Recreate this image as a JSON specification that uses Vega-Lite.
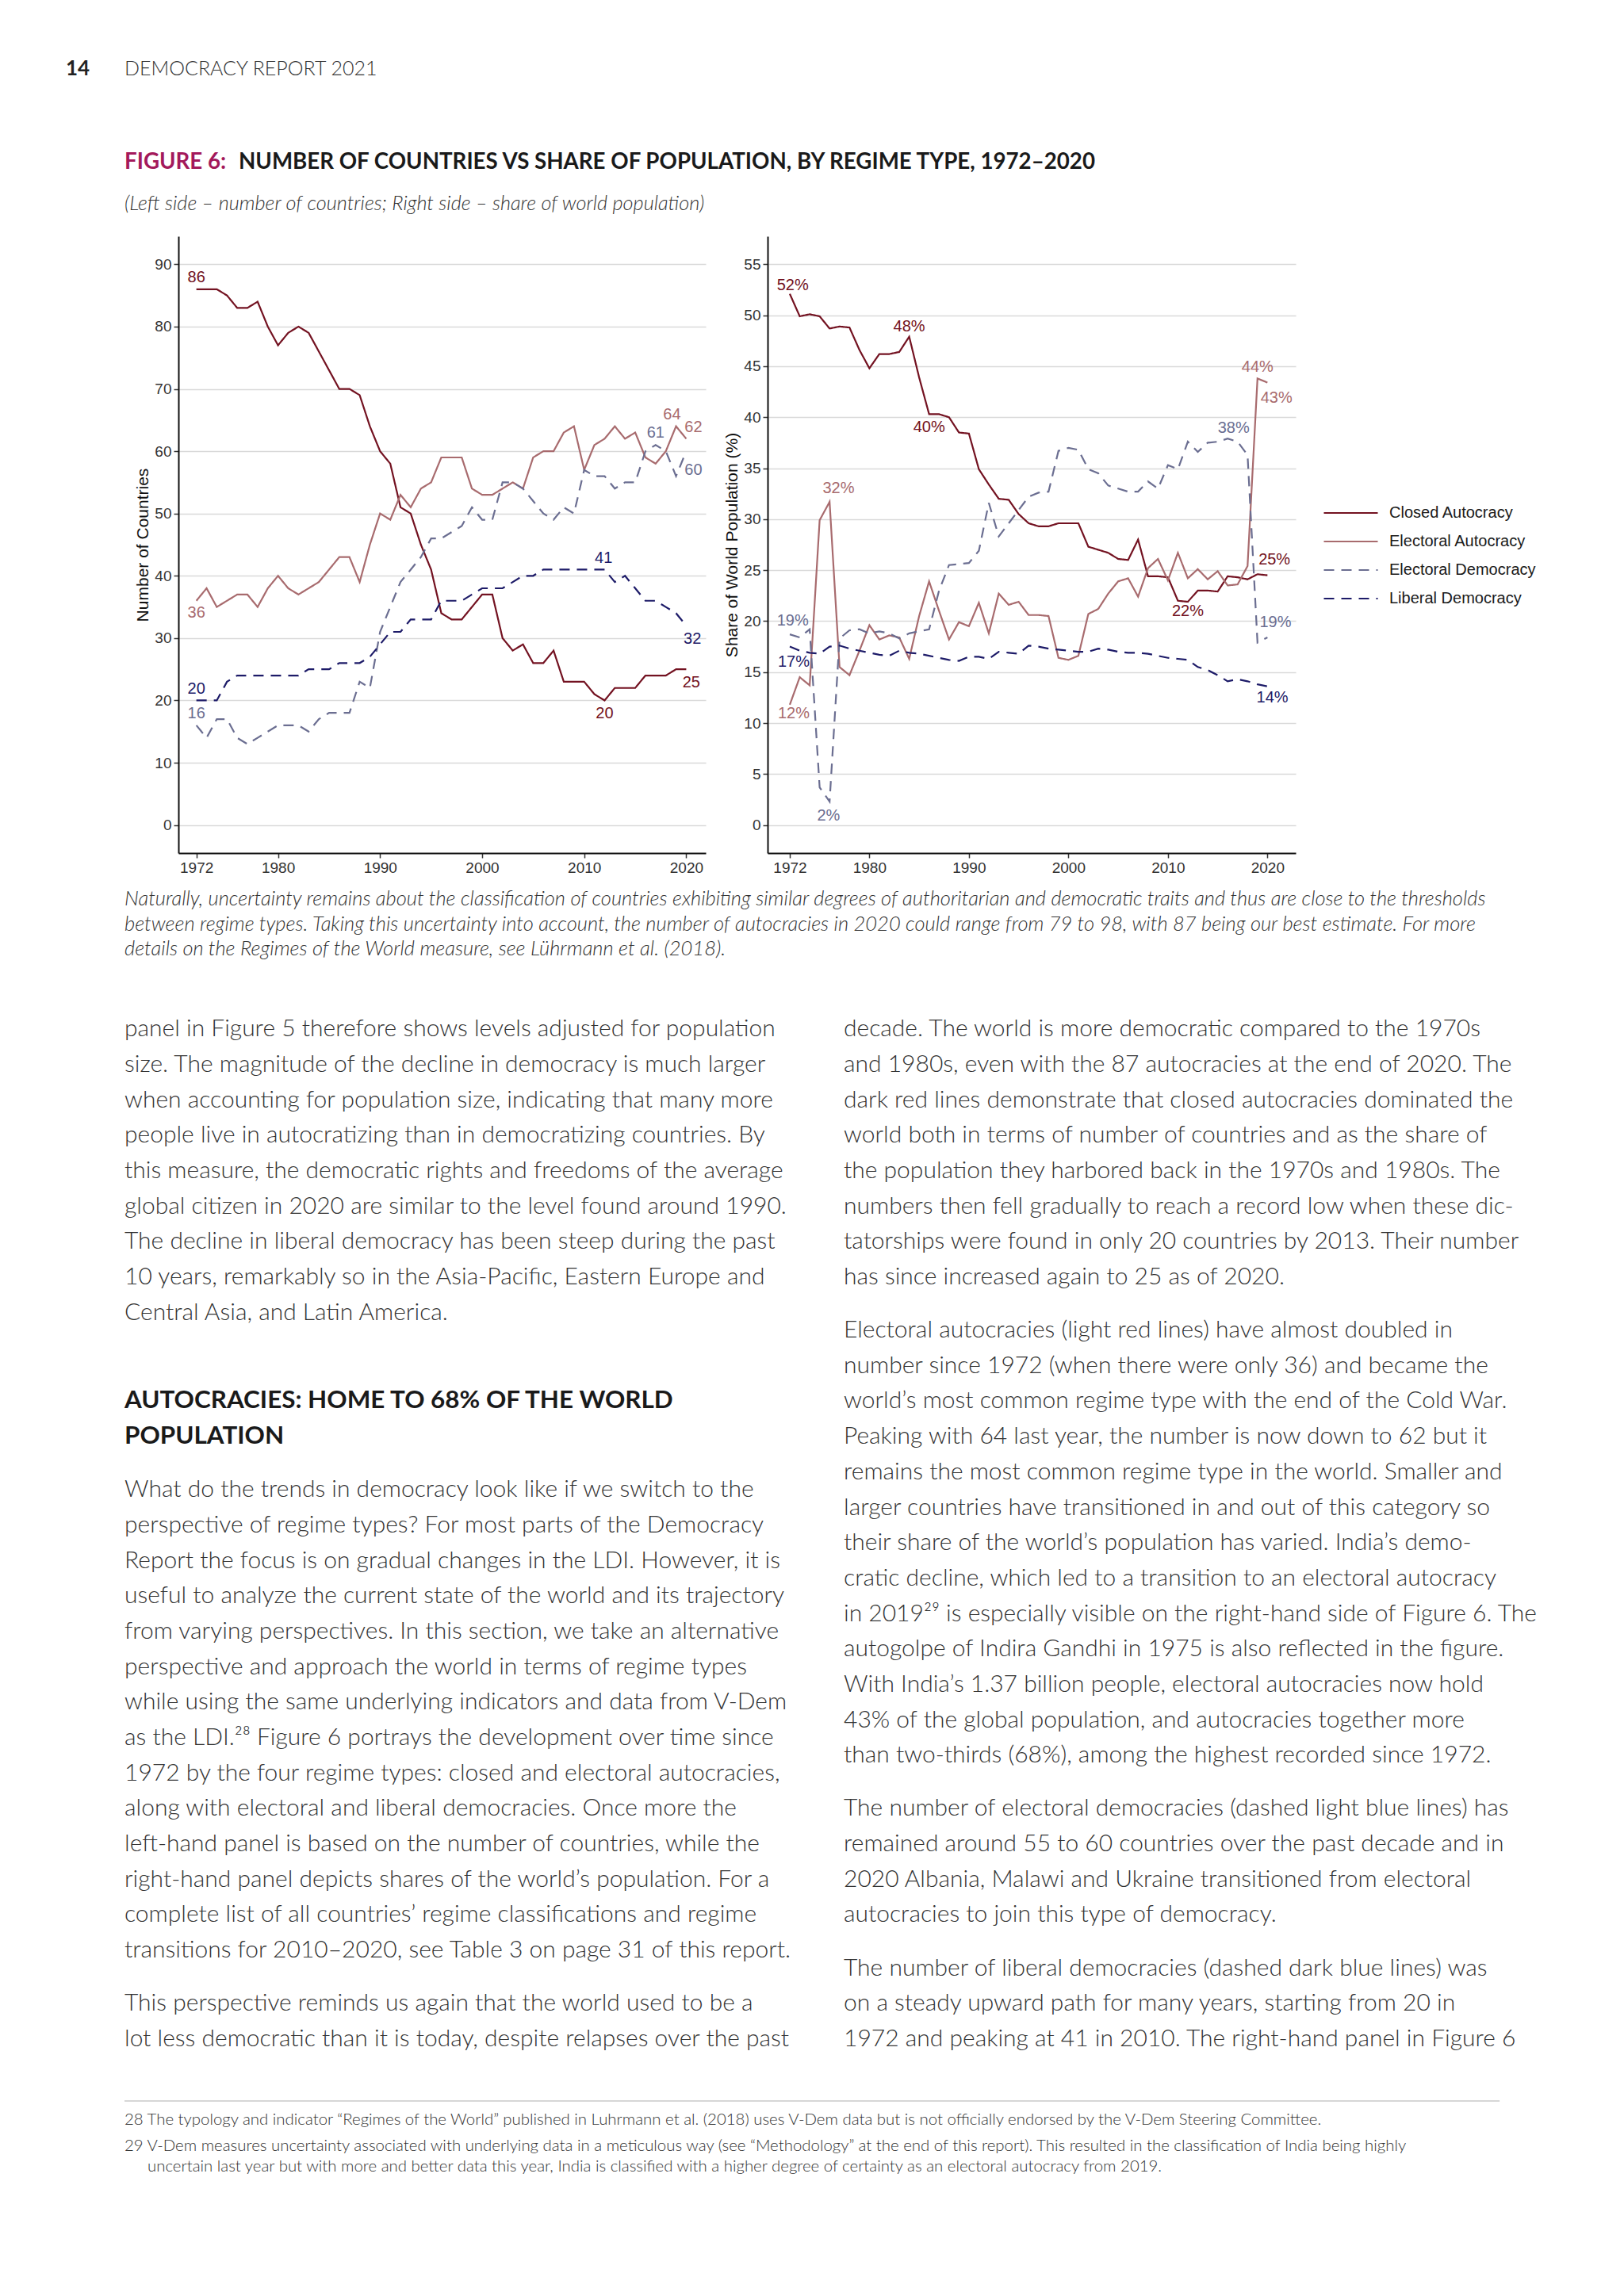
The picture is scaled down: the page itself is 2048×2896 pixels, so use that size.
{
"$schema": "https://vega.github.io/schema/vega-lite/v6.json",
"padding": 0,
"background": "#ffffff",
"spacing": 0,
"config": {
  "view": {"stroke": null},
  "axis": {"labelFont": "Liberation Sans", "titleFont": "Liberation Sans", "labelFontSize": 19, "titleFontSize": 21, "titleFontWeight": "normal", "labelColor": "#333333", "titleColor": "#111111", "tickColor": "#333333", "domainColor": "#111111", "domainWidth": 2, "tickWidth": 1.5, "tickSize": 6, "labelPadding": 3, "titlePadding": 4, "gridColor": "#d9d9d9", "gridWidth": 1.5}
},
"datasets": {
  "left": [
    {"year":1972,"Closed Autocracy":86,"Electoral Autocracy":36,"Electoral Democracy":16,"Liberal Democracy":20},
    {"year":1973,"Closed Autocracy":86,"Electoral Autocracy":38,"Electoral Democracy":14,"Liberal Democracy":20},
    {"year":1974,"Closed Autocracy":86,"Electoral Autocracy":35,"Electoral Democracy":17,"Liberal Democracy":20},
    {"year":1975,"Closed Autocracy":85,"Electoral Autocracy":36,"Electoral Democracy":17,"Liberal Democracy":23},
    {"year":1976,"Closed Autocracy":83,"Electoral Autocracy":37,"Electoral Democracy":14,"Liberal Democracy":24},
    {"year":1977,"Closed Autocracy":83,"Electoral Autocracy":37,"Electoral Democracy":13,"Liberal Democracy":24},
    {"year":1978,"Closed Autocracy":84,"Electoral Autocracy":35,"Electoral Democracy":14,"Liberal Democracy":24},
    {"year":1979,"Closed Autocracy":80,"Electoral Autocracy":38,"Electoral Democracy":15,"Liberal Democracy":24},
    {"year":1980,"Closed Autocracy":77,"Electoral Autocracy":40,"Electoral Democracy":16,"Liberal Democracy":24},
    {"year":1981,"Closed Autocracy":79,"Electoral Autocracy":38,"Electoral Democracy":16,"Liberal Democracy":24},
    {"year":1982,"Closed Autocracy":80,"Electoral Autocracy":37,"Electoral Democracy":16,"Liberal Democracy":24},
    {"year":1983,"Closed Autocracy":79,"Electoral Autocracy":38,"Electoral Democracy":15,"Liberal Democracy":25},
    {"year":1984,"Closed Autocracy":76,"Electoral Autocracy":39,"Electoral Democracy":17,"Liberal Democracy":25},
    {"year":1985,"Closed Autocracy":73,"Electoral Autocracy":41,"Electoral Democracy":18,"Liberal Democracy":25},
    {"year":1986,"Closed Autocracy":70,"Electoral Autocracy":43,"Electoral Democracy":18,"Liberal Democracy":26},
    {"year":1987,"Closed Autocracy":70,"Electoral Autocracy":43,"Electoral Democracy":18,"Liberal Democracy":26},
    {"year":1988,"Closed Autocracy":69,"Electoral Autocracy":39,"Electoral Democracy":23,"Liberal Democracy":26},
    {"year":1989,"Closed Autocracy":64,"Electoral Autocracy":45,"Electoral Democracy":22,"Liberal Democracy":27},
    {"year":1990,"Closed Autocracy":60,"Electoral Autocracy":50,"Electoral Democracy":31,"Liberal Democracy":29},
    {"year":1991,"Closed Autocracy":58,"Electoral Autocracy":49,"Electoral Democracy":35,"Liberal Democracy":31},
    {"year":1992,"Closed Autocracy":51,"Electoral Autocracy":53,"Electoral Democracy":39,"Liberal Democracy":31},
    {"year":1993,"Closed Autocracy":50,"Electoral Autocracy":51,"Electoral Democracy":41,"Liberal Democracy":33},
    {"year":1994,"Closed Autocracy":45,"Electoral Autocracy":54,"Electoral Democracy":43,"Liberal Democracy":33},
    {"year":1995,"Closed Autocracy":41,"Electoral Autocracy":55,"Electoral Democracy":46,"Liberal Democracy":33},
    {"year":1996,"Closed Autocracy":34,"Electoral Autocracy":59,"Electoral Democracy":46,"Liberal Democracy":36},
    {"year":1997,"Closed Autocracy":33,"Electoral Autocracy":59,"Electoral Democracy":47,"Liberal Democracy":36},
    {"year":1998,"Closed Autocracy":33,"Electoral Autocracy":59,"Electoral Democracy":48,"Liberal Democracy":36},
    {"year":1999,"Closed Autocracy":35,"Electoral Autocracy":54,"Electoral Democracy":51,"Liberal Democracy":37},
    {"year":2000,"Closed Autocracy":37,"Electoral Autocracy":53,"Electoral Democracy":49,"Liberal Democracy":38},
    {"year":2001,"Closed Autocracy":37,"Electoral Autocracy":53,"Electoral Democracy":49,"Liberal Democracy":38},
    {"year":2002,"Closed Autocracy":30,"Electoral Autocracy":54,"Electoral Democracy":55,"Liberal Democracy":38},
    {"year":2003,"Closed Autocracy":28,"Electoral Autocracy":55,"Electoral Democracy":55,"Liberal Democracy":39},
    {"year":2004,"Closed Autocracy":29,"Electoral Autocracy":54,"Electoral Democracy":54,"Liberal Democracy":40},
    {"year":2005,"Closed Autocracy":26,"Electoral Autocracy":59,"Electoral Democracy":52,"Liberal Democracy":40},
    {"year":2006,"Closed Autocracy":26,"Electoral Autocracy":60,"Electoral Democracy":50,"Liberal Democracy":41},
    {"year":2007,"Closed Autocracy":28,"Electoral Autocracy":60,"Electoral Democracy":49,"Liberal Democracy":41},
    {"year":2008,"Closed Autocracy":23,"Electoral Autocracy":63,"Electoral Democracy":51,"Liberal Democracy":41},
    {"year":2009,"Closed Autocracy":23,"Electoral Autocracy":64,"Electoral Democracy":50,"Liberal Democracy":41},
    {"year":2010,"Closed Autocracy":23,"Electoral Autocracy":57,"Electoral Democracy":57,"Liberal Democracy":41},
    {"year":2011,"Closed Autocracy":21,"Electoral Autocracy":61,"Electoral Democracy":56,"Liberal Democracy":41},
    {"year":2012,"Closed Autocracy":20,"Electoral Autocracy":62,"Electoral Democracy":56,"Liberal Democracy":41},
    {"year":2013,"Closed Autocracy":22,"Electoral Autocracy":64,"Electoral Democracy":54,"Liberal Democracy":39},
    {"year":2014,"Closed Autocracy":22,"Electoral Autocracy":62,"Electoral Democracy":55,"Liberal Democracy":40},
    {"year":2015,"Closed Autocracy":22,"Electoral Autocracy":63,"Electoral Democracy":55,"Liberal Democracy":38},
    {"year":2016,"Closed Autocracy":24,"Electoral Autocracy":59,"Electoral Democracy":60,"Liberal Democracy":36},
    {"year":2017,"Closed Autocracy":24,"Electoral Autocracy":58,"Electoral Democracy":61,"Liberal Democracy":36},
    {"year":2018,"Closed Autocracy":24,"Electoral Autocracy":60,"Electoral Democracy":60,"Liberal Democracy":35},
    {"year":2019,"Closed Autocracy":25,"Electoral Autocracy":64,"Electoral Democracy":56,"Liberal Democracy":34},
    {"year":2020,"Closed Autocracy":25,"Electoral Autocracy":62,"Electoral Democracy":60,"Liberal Democracy":32}
  ],
  "right": [
    {"year":1972,"Closed Autocracy":52.1,"Electoral Autocracy":11.8,"Electoral Democracy":18.7,"Liberal Democracy":17.5},
    {"year":1973,"Closed Autocracy":49.9,"Electoral Autocracy":14.5,"Electoral Democracy":18.4,"Liberal Democracy":17.1},
    {"year":1974,"Closed Autocracy":50.1,"Electoral Autocracy":13.7,"Electoral Democracy":19.2,"Liberal Democracy":16.9},
    {"year":1975,"Closed Autocracy":49.9,"Electoral Autocracy":29.9,"Electoral Democracy":3.7,"Liberal Democracy":16.8},
    {"year":1976,"Closed Autocracy":48.7,"Electoral Autocracy":31.7,"Electoral Democracy":2.3,"Liberal Democracy":17.5},
    {"year":1977,"Closed Autocracy":48.9,"Electoral Autocracy":15.5,"Electoral Democracy":18.3,"Liberal Democracy":17.6},
    {"year":1978,"Closed Autocracy":48.8,"Electoral Autocracy":14.7,"Electoral Democracy":19.1,"Liberal Democracy":17.3},
    {"year":1979,"Closed Autocracy":46.6,"Electoral Autocracy":17.1,"Electoral Democracy":19.2,"Liberal Democracy":17.1},
    {"year":1980,"Closed Autocracy":44.8,"Electoral Autocracy":19.6,"Electoral Democracy":18.8,"Liberal Democracy":16.9},
    {"year":1981,"Closed Autocracy":46.2,"Electoral Autocracy":18.2,"Electoral Democracy":19.0,"Liberal Democracy":16.7},
    {"year":1982,"Closed Autocracy":46.2,"Electoral Autocracy":18.6,"Electoral Democracy":18.8,"Liberal Democracy":16.6},
    {"year":1983,"Closed Autocracy":46.4,"Electoral Autocracy":18.4,"Electoral Democracy":18.3,"Liberal Democracy":17.1},
    {"year":1984,"Closed Autocracy":47.9,"Electoral Autocracy":16.3,"Electoral Democracy":18.8,"Liberal Democracy":16.9},
    {"year":1985,"Closed Autocracy":43.9,"Electoral Autocracy":20.5,"Electoral Democracy":19.0,"Liberal Democracy":16.8},
    {"year":1986,"Closed Autocracy":40.3,"Electoral Autocracy":23.9,"Electoral Democracy":19.2,"Liberal Democracy":16.6},
    {"year":1987,"Closed Autocracy":40.3,"Electoral Autocracy":21.0,"Electoral Democracy":23.0,"Liberal Democracy":16.4},
    {"year":1988,"Closed Autocracy":40.0,"Electoral Autocracy":18.2,"Electoral Democracy":25.5,"Liberal Democracy":16.2},
    {"year":1989,"Closed Autocracy":38.5,"Electoral Autocracy":19.9,"Electoral Democracy":25.6,"Liberal Democracy":16.1},
    {"year":1990,"Closed Autocracy":38.4,"Electoral Autocracy":19.5,"Electoral Democracy":25.7,"Liberal Democracy":16.5},
    {"year":1991,"Closed Autocracy":34.9,"Electoral Autocracy":21.8,"Electoral Democracy":26.9,"Liberal Democracy":16.5},
    {"year":1992,"Closed Autocracy":33.4,"Electoral Autocracy":18.8,"Electoral Democracy":31.6,"Liberal Democracy":16.3},
    {"year":1993,"Closed Autocracy":32.0,"Electoral Autocracy":22.7,"Electoral Democracy":28.3,"Liberal Democracy":17.0},
    {"year":1994,"Closed Autocracy":31.9,"Electoral Autocracy":21.6,"Electoral Democracy":29.6,"Liberal Democracy":16.9},
    {"year":1995,"Closed Autocracy":30.5,"Electoral Autocracy":21.9,"Electoral Democracy":30.9,"Liberal Democracy":16.8},
    {"year":1996,"Closed Autocracy":29.6,"Electoral Autocracy":20.6,"Electoral Democracy":32.2,"Liberal Democracy":17.6},
    {"year":1997,"Closed Autocracy":29.3,"Electoral Autocracy":20.6,"Electoral Democracy":32.6,"Liberal Democracy":17.5},
    {"year":1998,"Closed Autocracy":29.3,"Electoral Autocracy":20.5,"Electoral Democracy":32.7,"Liberal Democracy":17.3},
    {"year":1999,"Closed Autocracy":29.6,"Electoral Autocracy":16.4,"Electoral Democracy":36.7,"Liberal Democracy":17.2},
    {"year":2000,"Closed Autocracy":29.6,"Electoral Autocracy":16.2,"Electoral Democracy":37.0,"Liberal Democracy":17.1},
    {"year":2001,"Closed Autocracy":29.6,"Electoral Autocracy":16.6,"Electoral Democracy":36.8,"Liberal Democracy":17.0},
    {"year":2002,"Closed Autocracy":27.3,"Electoral Autocracy":20.7,"Electoral Democracy":34.9,"Liberal Democracy":17.0},
    {"year":2003,"Closed Autocracy":27.0,"Electoral Autocracy":21.2,"Electoral Democracy":34.5,"Liberal Democracy":17.3},
    {"year":2004,"Closed Autocracy":26.7,"Electoral Autocracy":22.7,"Electoral Democracy":33.3,"Liberal Democracy":17.2},
    {"year":2005,"Closed Autocracy":26.1,"Electoral Autocracy":23.9,"Electoral Democracy":33.0,"Liberal Democracy":17.0},
    {"year":2006,"Closed Autocracy":26.0,"Electoral Autocracy":24.2,"Electoral Democracy":32.7,"Liberal Democracy":16.9},
    {"year":2007,"Closed Autocracy":28.0,"Electoral Autocracy":22.4,"Electoral Democracy":32.7,"Liberal Democracy":16.9},
    {"year":2008,"Closed Autocracy":24.4,"Electoral Autocracy":25.2,"Electoral Democracy":33.7,"Liberal Democracy":16.8},
    {"year":2009,"Closed Autocracy":24.4,"Electoral Autocracy":26.1,"Electoral Democracy":33.0,"Liberal Democracy":16.6},
    {"year":2010,"Closed Autocracy":24.3,"Electoral Autocracy":24.0,"Electoral Democracy":35.3,"Liberal Democracy":16.4},
    {"year":2011,"Closed Autocracy":22.0,"Electoral Autocracy":26.7,"Electoral Democracy":34.9,"Liberal Democracy":16.3},
    {"year":2012,"Closed Autocracy":21.9,"Electoral Autocracy":24.2,"Electoral Democracy":37.6,"Liberal Democracy":16.2},
    {"year":2013,"Closed Autocracy":23.0,"Electoral Autocracy":25.1,"Electoral Democracy":36.6,"Liberal Democracy":15.5},
    {"year":2014,"Closed Autocracy":23.0,"Electoral Autocracy":24.1,"Electoral Democracy":37.5,"Liberal Democracy":15.2},
    {"year":2015,"Closed Autocracy":22.9,"Electoral Autocracy":24.9,"Electoral Democracy":37.6,"Liberal Democracy":14.7},
    {"year":2016,"Closed Autocracy":24.4,"Electoral Autocracy":23.5,"Electoral Democracy":37.9,"Liberal Democracy":14.1},
    {"year":2017,"Closed Autocracy":24.3,"Electoral Autocracy":23.6,"Electoral Democracy":37.6,"Liberal Democracy":14.3},
    {"year":2018,"Closed Autocracy":24.1,"Electoral Autocracy":25.4,"Electoral Democracy":36.3,"Liberal Democracy":14.1},
    {"year":2019,"Closed Autocracy":24.6,"Electoral Autocracy":43.8,"Electoral Democracy":17.9,"Liberal Democracy":13.8},
    {"year":2020,"Closed Autocracy":24.5,"Electoral Autocracy":43.4,"Electoral Democracy":18.4,"Liberal Democracy":13.6}
  ],
  "labels": [
    {"panel":"left","series":"Closed Autocracy","year":1972,"value":87.9,"label":"86"},
    {"panel":"left","series":"Electoral Autocracy","year":1972,"value":34.1,"label":"36"},
    {"panel":"left","series":"Liberal Democracy","year":1972,"value":21.9,"label":"20"},
    {"panel":"left","series":"Electoral Democracy","year":1972,"value":17.9,"label":"16"},
    {"panel":"left","series":"Liberal Democracy","year":2011.9,"value":42.9,"label":"41"},
    {"panel":"left","series":"Closed Autocracy","year":2012,"value":17.9,"label":"20"},
    {"panel":"left","series":"Closed Autocracy","year":2020.5,"value":22.9,"label":"25"},
    {"panel":"left","series":"Liberal Democracy","year":2020.6,"value":29.9,"label":"32"},
    {"panel":"left","series":"Electoral Autocracy","year":2018.6,"value":65.9,"label":"64"},
    {"panel":"left","series":"Electoral Autocracy","year":2020.7,"value":63.8,"label":"62"},
    {"panel":"left","series":"Electoral Democracy","year":2017,"value":62.9,"label":"61"},
    {"panel":"left","series":"Electoral Democracy","year":2020.7,"value":56.9,"label":"60"},
    {"panel":"right","series":"Closed Autocracy","year":1972.3,"value":52.9,"label":"52%"},
    {"panel":"right","series":"Closed Autocracy","year":1984,"value":48.9,"label":"48%"},
    {"panel":"right","series":"Closed Autocracy","year":1986,"value":39.0,"label":"40%"},
    {"panel":"right","series":"Electoral Autocracy","year":1976.9,"value":33.0,"label":"32%"},
    {"panel":"right","series":"Electoral Democracy","year":1972.3,"value":20.0,"label":"19%"},
    {"panel":"right","series":"Liberal Democracy","year":1972.4,"value":16.0,"label":"17%"},
    {"panel":"right","series":"Electoral Autocracy","year":1972.4,"value":10.9,"label":"12%"},
    {"panel":"right","series":"Electoral Democracy","year":1975.9,"value":0.9,"label":"2%"},
    {"panel":"right","series":"Electoral Autocracy","year":2019.0,"value":44.9,"label":"44%"},
    {"panel":"right","series":"Electoral Autocracy","year":2020.9,"value":41.9,"label":"43%"},
    {"panel":"right","series":"Electoral Democracy","year":2016.6,"value":38.9,"label":"38%"},
    {"panel":"right","series":"Closed Autocracy","year":2020.7,"value":26.0,"label":"25%"},
    {"panel":"right","series":"Closed Autocracy","year":2012.0,"value":21.0,"label":"22%"},
    {"panel":"right","series":"Electoral Democracy","year":2020.8,"value":19.9,"label":"19%"},
    {"panel":"right","series":"Liberal Democracy","year":2020.5,"value":12.5,"label":"14%"}
  ],
  "head": [
    {"kind":"page","col":0,"line":0,"text":"14"},
    {"kind":"running","col":0,"line":0,"text":"DEMOCRACY REPORT 2021"},
    {"kind":"figlabel","col":0,"line":1,"text":"FIGURE 6:"},
    {"kind":"figtitle","col":0,"line":1,"text":"NUMBER OF COUNTRIES VS SHARE OF POPULATION, BY REGIME TYPE, 1972–2020"},
    {"kind":"subtitle","col":0,"line":1.4407,"text":"(Left side – number of countries; Right side – share of world population)"}
  ],
  "page": [
    {"kind":"caption","col":0,"line":-3.674,"text":"Naturally, uncertainty remains about the classification of countries exhibiting similar degrees of authoritarian and democratic traits and thus are close to the thresholds"},
    {"kind":"caption","col":0,"line":-2.969,"text":"between regime types. Taking this uncertainty into account, the number of autocracies in 2020 could range from 79 to 98, with 87 being our best estimate. For more"},
    {"kind":"caption","col":0,"line":-2.264,"text":"details on the Regimes of the World measure, see Lührmann et al. (2018)."},
    {"kind":"body","col":0,"line":0,"text":"panel in Figure 5 therefore shows levels adjusted for population"},
    {"kind":"body","col":0,"line":1,"text":"size. The magnitude of the decline in democracy is much larger"},
    {"kind":"body","col":0,"line":2,"text":"when accounting for population size, indicating that many more"},
    {"kind":"body","col":0,"line":3,"text":"people live in autocratizing than in democratizing countries. By"},
    {"kind":"body","col":0,"line":4,"text":"this measure, the democratic rights and freedoms of the average"},
    {"kind":"body","col":0,"line":5,"text":"global citizen in 2020 are similar to the level found around 1990."},
    {"kind":"body","col":0,"line":6,"text":"The decline in liberal democracy has been steep during the past"},
    {"kind":"body","col":0,"line":7,"text":"10 years, remarkably so in the Asia-Pacific, Eastern Europe and"},
    {"kind":"body","col":0,"line":8,"text":"Central Asia, and Latin America."},
    {"kind":"heading","col":0,"line":10.5,"text":"AUTOCRACIES: HOME TO 68% OF THE WORLD"},
    {"kind":"heading","col":0,"line":11.5,"text":"POPULATION"},
    {"kind":"body","col":0,"line":13,"text":"What do the trends in democracy look like if we switch to the"},
    {"kind":"body","col":0,"line":14,"text":"perspective of regime types? For most parts of the Democracy"},
    {"kind":"body","col":0,"line":15,"text":"Report the focus is on gradual changes in the LDI. However, it is"},
    {"kind":"body","col":0,"line":16,"text":"useful to analyze the current state of the world and its trajectory"},
    {"kind":"body","col":0,"line":17,"text":"from varying perspectives. In this section, we take an alternative"},
    {"kind":"body","col":0,"line":18,"text":"perspective and approach the world in terms of regime types"},
    {"kind":"body","col":0,"line":19,"text":"while using the same underlying indicators and data from V-Dem"},
    {"kind":"body","col":0,"line":20,"text":"as the LDI.²⁸ Figure 6 portrays the development over time since"},
    {"kind":"body","col":0,"line":21,"text":"1972 by the four regime types: closed and electoral autocracies,"},
    {"kind":"body","col":0,"line":22,"text":"along with electoral and liberal democracies. Once more the"},
    {"kind":"body","col":0,"line":23,"text":"left-hand panel is based on the number of countries, while the"},
    {"kind":"body","col":0,"line":24,"text":"right-hand panel depicts shares of the world’s population. For a"},
    {"kind":"body","col":0,"line":25,"text":"complete list of all countries’ regime classifications and regime"},
    {"kind":"body","col":0,"line":26,"text":"transitions for 2010–2020, see Table 3 on page 31 of this report."},
    {"kind":"body","col":0,"line":27.5,"text":"This perspective reminds us again that the world used to be a"},
    {"kind":"body","col":0,"line":28.5,"text":"lot less democratic than it is today, despite relapses over the past"},
    {"kind":"body","col":1,"line":0,"text":"decade. The world is more democratic compared to the 1970s"},
    {"kind":"body","col":1,"line":1,"text":"and 1980s, even with the 87 autocracies at the end of 2020. The"},
    {"kind":"body","col":1,"line":2,"text":"dark red lines demonstrate that closed autocracies dominated the"},
    {"kind":"body","col":1,"line":3,"text":"world both in terms of number of countries and as the share of"},
    {"kind":"body","col":1,"line":4,"text":"the population they harbored back in the 1970s and 1980s. The"},
    {"kind":"body","col":1,"line":5,"text":"numbers then fell gradually to reach a record low when these dic-"},
    {"kind":"body","col":1,"line":6,"text":"tatorships were found in only 20 countries by 2013. Their number"},
    {"kind":"body","col":1,"line":7,"text":"has since increased again to 25 as of 2020."},
    {"kind":"body","col":1,"line":8.5,"text":"Electoral autocracies (light red lines) have almost doubled in"},
    {"kind":"body","col":1,"line":9.5,"text":"number since 1972 (when there were only 36) and became the"},
    {"kind":"body","col":1,"line":10.5,"text":"world’s most common regime type with the end of the Cold War."},
    {"kind":"body","col":1,"line":11.5,"text":"Peaking with 64 last year, the number is now down to 62 but it"},
    {"kind":"body","col":1,"line":12.5,"text":"remains the most common regime type in the world. Smaller and"},
    {"kind":"body","col":1,"line":13.5,"text":"larger countries have transitioned in and out of this category so"},
    {"kind":"body","col":1,"line":14.5,"text":"their share of the world’s population has varied. India’s demo-"},
    {"kind":"body","col":1,"line":15.5,"text":"cratic decline, which led to a transition to an electoral autocracy"},
    {"kind":"body","col":1,"line":16.5,"text":"in 2019²⁹ is especially visible on the right-hand side of Figure 6. The"},
    {"kind":"body","col":1,"line":17.5,"text":"autogolpe of Indira Gandhi in 1975 is also reflected in the figure."},
    {"kind":"body","col":1,"line":18.5,"text":"With India’s 1.37 billion people, electoral autocracies now hold"},
    {"kind":"body","col":1,"line":19.5,"text":"43% of the global population, and autocracies together more"},
    {"kind":"body","col":1,"line":20.5,"text":"than two-thirds (68%), among the highest recorded since 1972."},
    {"kind":"body","col":1,"line":22,"text":"The number of electoral democracies (dashed light blue lines) has"},
    {"kind":"body","col":1,"line":23,"text":"remained around 55 to 60 countries over the past decade and in"},
    {"kind":"body","col":1,"line":24,"text":"2020 Albania, Malawi and Ukraine transitioned from electoral"},
    {"kind":"body","col":1,"line":25,"text":"autocracies to join this type of democracy."},
    {"kind":"body","col":1,"line":26.5,"text":"The number of liberal democracies (dashed dark blue lines) was"},
    {"kind":"body","col":1,"line":27.5,"text":"on a steady upward path for many years, starting from 20 in"},
    {"kind":"body","col":1,"line":28.5,"text":"1972 and peaking at 41 in 2010. The right-hand panel in Figure 6"},
    {"kind":"rule","col":0,"col2":1.912,"line":30.25,"text":""},
    {"kind":"foot","col":0,"line":30.787,"text":"28 The typology and indicator “Regimes of the World” published in Luhrmann et al. (2018) uses V-Dem data but is not officially endorsed by the V-Dem Steering Committee."},
    {"kind":"foot","col":0,"line":31.525,"text":"29 V-Dem measures uncertainty associated with underlying data in a meticulous way (see “Methodology” at the end of this report). This resulted in the classification of India being highly"},
    {"kind":"footcont","col":0,"line":32.107,"text":"uncertain last year but with more and better data this year, India is classified with a higher degree of certainty as an electoral autocracy from 2019."}
  ]
},
"vconcat": [
  {
    "width": 2048, "height": 298,
    "data": {"name": "head"},
    "encoding": {
      "x": {"field": "col", "type": "quantitative", "scale": {"domain": [0, 1], "range": [157, 1064], "nice": false, "zero": false}, "axis": null},
      "y": {"field": "line", "type": "quantitative", "scale": {"domain": [0, 1], "range": [87, 205], "nice": false, "zero": false}, "axis": null},
      "text": {"field": "text"}
    },
    "layer": [
      {"transform": [{"filter": "datum.kind === 'page'"}], "mark": {"type": "text", "align": "left", "baseline": "middle", "dx": -74, "font": "Lato", "fontWeight": "bold", "fontSize": 26, "color": "#222222"}},
      {"transform": [{"filter": "datum.kind === 'running'"}], "mark": {"type": "text", "align": "left", "baseline": "middle", "font": "Lato", "fontWeight": 300, "fontSize": 25, "color": "#333333"}},
      {"transform": [{"filter": "datum.kind === 'figlabel'"}], "mark": {"type": "text", "align": "left", "baseline": "middle", "font": "Lato", "fontWeight": "bold", "fontSize": 27.7, "color": "#a3195b"}},
      {"transform": [{"filter": "datum.kind === 'figtitle'"}], "mark": {"type": "text", "align": "left", "baseline": "middle", "dx": 144, "font": "Lato", "fontWeight": "bold", "fontSize": 27.7, "color": "#1a1a1a"}},
      {"transform": [{"filter": "datum.kind === 'subtitle'"}], "mark": {"type": "text", "align": "left", "baseline": "middle", "font": "Lato", "fontStyle": "italic", "fontWeight": 300, "fontSize": 25.3, "color": "#333333"}}
    ]
  },
  {
    "bounds": "flush",
    "spacing": 0,
    "resolve": {"scale": {"color": "independent", "strokeDash": "independent", "fill": "independent"}, "legend": {"color": "independent", "strokeDash": "independent", "fill": "independent"}},
    "hconcat": [
      {"width": 225, "height": 778, "data": {"values": [{}]}, "mark": {"type": "text"}, "encoding": {"text": {"value": ""}}},
      {
        "width": 665, "height": 778,
        "layer": [
          {
            "data": {"name": "left"},
            "transform": [{"fold": ["Closed Autocracy", "Electoral Autocracy", "Electoral Democracy", "Liberal Democracy"], "as": ["series", "value"]}],
            "mark": {"type": "line", "strokeWidth": 2.2},
            "encoding": {
              "x": {"field": "year", "type": "quantitative", "scale": {"domain": [1970.24, 2021.91], "nice": false, "zero": false}, "axis": {"values": [1972, 1980, 1990, 2000, 2010, 2020], "format": "d", "title": null, "grid": false}},
              "y": {"field": "value", "type": "quantitative", "scale": {"domain": [-4.5, 94.5], "nice": false, "zero": false}, "axis": {"values": [0, 10, 20, 30, 40, 50, 60, 70, 80, 90], "title": "Number of Countries", "grid": true}},
              "color": {"field": "series", "type": "nominal", "scale": {"domain": ["Closed Autocracy", "Electoral Autocracy", "Electoral Democracy", "Liberal Democracy"], "range": ["#731221", "#a86b6e", "#6b6e91", "#1d1b68"]}, "legend": null},
              "strokeDash": {"field": "series", "type": "nominal", "scale": {"domain": ["Closed Autocracy", "Electoral Autocracy", "Electoral Democracy", "Liberal Democracy"], "range": [[1, 0], [1, 0], [13, 9], [13, 9]]}, "legend": null}
            }
          },
          {
            "data": {"name": "labels"},
            "transform": [{"filter": "datum.panel === 'left'"}],
            "mark": {"type": "text", "font": "Liberation Sans", "fontSize": 20, "align": "center", "baseline": "middle"},
            "encoding": {
              "x": {"field": "year", "type": "quantitative"},
              "y": {"field": "value", "type": "quantitative"},
              "text": {"field": "label"},
              "fill": {"field": "series", "type": "nominal", "scale": {"domain": ["Closed Autocracy", "Electoral Autocracy", "Electoral Democracy", "Liberal Democracy"], "range": ["#731221", "#a86b6e", "#6b6e91", "#1d1b68"]}, "legend": null}
            }
          }
        ]
      },
      {"width": 78, "height": 778, "data": {"values": [{}]}, "mark": {"type": "text"}, "encoding": {"text": {"value": ""}}},
      {
        "width": 666, "height": 778,
        "layer": [
          {
            "data": {"name": "right"},
            "transform": [{"fold": ["Closed Autocracy", "Electoral Autocracy", "Electoral Democracy", "Liberal Democracy"], "as": ["series", "value"]}],
            "mark": {"type": "line", "strokeWidth": 2.2},
            "encoding": {
              "x": {"field": "year", "type": "quantitative", "scale": {"domain": [1969.77, 2022.84], "nice": false, "zero": false}, "axis": {"values": [1972, 1980, 1990, 2000, 2010, 2020], "format": "d", "title": null, "grid": false}},
              "y": {"field": "value", "type": "quantitative", "scale": {"domain": [-2.75, 57.75], "nice": false, "zero": false}, "axis": {"values": [0, 5, 10, 15, 20, 25, 30, 35, 40, 45, 50, 55], "title": "Share of World Population (%)", "grid": true}},
              "color": {"field": "series", "type": "nominal", "scale": {"domain": ["Closed Autocracy", "Electoral Autocracy", "Electoral Democracy", "Liberal Democracy"], "range": ["#731221", "#a86b6e", "#6b6e91", "#1d1b68"]},
                "legend": {"orient": "none", "legendX": 700, "legendY": 339, "title": null, "symbolType": "stroke", "symbolSize": 4624, "symbolStrokeWidth": 2.2, "clipHeight": 20, "rowPadding": 16, "labelFontSize": 20, "labelFont": "Liberation Sans", "labelColor": "#1a1a1a", "labelOffset": 13, "labelLimit": 500, "padding": 0}},
              "strokeDash": {"field": "series", "type": "nominal", "scale": {"domain": ["Closed Autocracy", "Electoral Autocracy", "Electoral Democracy", "Liberal Democracy"], "range": [[1, 0], [1, 0], [13, 9], [13, 9]]},
                "legend": {"orient": "none", "legendX": 700, "legendY": 339, "title": null, "symbolType": "stroke", "symbolSize": 4624, "symbolStrokeWidth": 2.2, "clipHeight": 20, "rowPadding": 16, "labelFontSize": 20, "labelFont": "Liberation Sans", "labelColor": "#1a1a1a", "labelOffset": 13, "labelLimit": 500, "padding": 0}}
            }
          },
          {
            "data": {"name": "labels"},
            "transform": [{"filter": "datum.panel === 'right'"}],
            "mark": {"type": "text", "font": "Liberation Sans", "fontSize": 20, "align": "center", "baseline": "middle"},
            "encoding": {
              "x": {"field": "year", "type": "quantitative"},
              "y": {"field": "value", "type": "quantitative"},
              "text": {"field": "label"},
              "fill": {"field": "series", "type": "nominal", "scale": {"domain": ["Closed Autocracy", "Electoral Autocracy", "Electoral Democracy", "Liberal Democracy"], "range": ["#731221", "#a86b6e", "#6b6e91", "#1d1b68"]}, "legend": null}
            }
          }
        ]
      }
    ]
  },
  {
    "width": 2048, "height": 1792,
    "data": {"name": "page"},
    "encoding": {
      "x": {"field": "col", "type": "quantitative", "scale": {"domain": [0, 1], "range": [157, 1064], "nice": false, "zero": false}, "axis": null},
      "y": {"field": "line", "type": "quantitative", "scale": {"domain": [0, 28.5], "range": [194.2, 1467.9], "nice": false, "zero": false}, "axis": null}
    },
    "layer": [
      {"transform": [{"filter": "datum.kind === 'caption'"}], "mark": {"type": "text", "align": "left", "baseline": "middle", "font": "Lato", "fontStyle": "italic", "fontWeight": 300, "fontSize": 25.5, "color": "#333333"}, "encoding": {"text": {"field": "text"}}},
      {"transform": [{"filter": "datum.kind === 'body'"}], "mark": {"type": "text", "align": "left", "baseline": "middle", "font": "Lato", "fontWeight": 300, "fontSize": 30, "color": "#333333"}, "encoding": {"text": {"field": "text"}}},
      {"transform": [{"filter": "datum.kind === 'heading'"}], "mark": {"type": "text", "align": "left", "baseline": "middle", "font": "Lato", "fontWeight": "bold", "fontSize": 31.4, "color": "#1a1a1a"}, "encoding": {"text": {"field": "text"}}},
      {"transform": [{"filter": "datum.kind === 'foot'"}], "mark": {"type": "text", "align": "left", "baseline": "middle", "font": "Lato", "fontWeight": 300, "fontSize": 20.4, "color": "#333333"}, "encoding": {"text": {"field": "text"}}},
      {"transform": [{"filter": "datum.kind === 'footcont'"}], "mark": {"type": "text", "align": "left", "baseline": "middle", "dx": 29, "font": "Lato", "fontWeight": 300, "fontSize": 20.4, "color": "#333333"}, "encoding": {"text": {"field": "text"}}},
      {"transform": [{"filter": "datum.kind === 'rule'"}], "mark": {"type": "rule", "color": "#c8c8c8", "strokeWidth": 1.5}, "encoding": {"x2": {"field": "col2"}}}
    ]
  }
]
}
